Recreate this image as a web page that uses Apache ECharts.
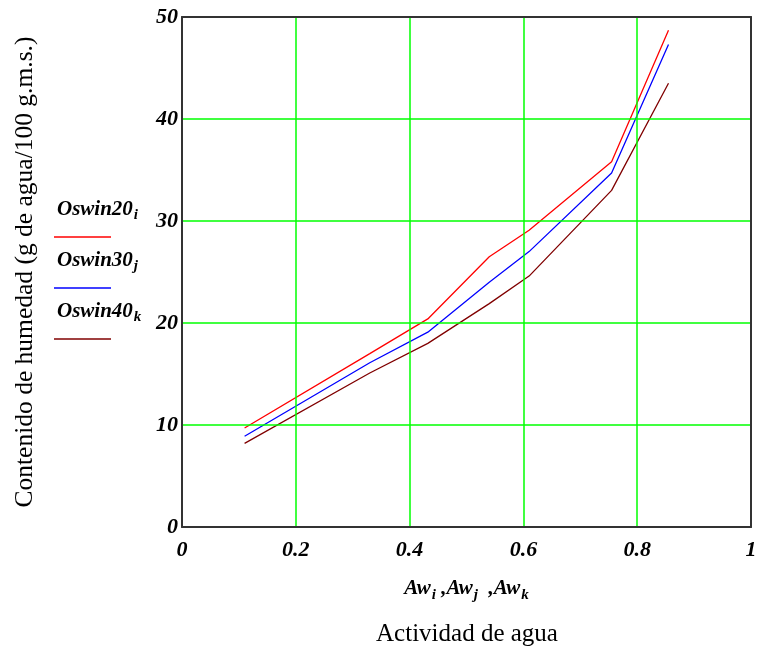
<!DOCTYPE html>
<html>
<head>
<meta charset="utf-8">
<script src="https://cdn.jsdelivr.net/npm/echarts@6/dist/echarts.min.js"></script>
<style>
  html, body { margin: 0; padding: 0; background: #fff; }
  #chart { width: 760px; height: 652px; }
</style>
</head>
<body>
<div id="chart"></div>
<script>
// Water activity of the saturated salt solutions (x axis)
const aw = [0.11, 0.33, 0.432, 0.54, 0.61, 0.755, 0.855];

// Oswin model moisture content (g water / 100 g dry matter) at each temperature
const oswin20 = [9.7, 17.0, 20.4, 26.5, 29.1, 35.8, 48.7];
const oswin30 = [8.9, 16.1, 19.1, 24.0, 27.0, 34.7, 47.3];
const oswin40 = [8.2, 15.1, 18.0, 21.9, 24.6, 33.0, 43.5];

const seriesNames = ['Oswin20', 'Oswin30', 'Oswin40'];
const seriesSubs = ['i', 'j', 'k'];
const seriesColors = ['#ff0000', '#0000ff', '#800000'];

const xTicks = [0, 0.2, 0.4, 0.6, 0.8, 1];
const yTicks = [0, 10, 20, 30, 40, 50];

const serif = '"Liberation Serif", "DejaVu Serif", serif';
const frameColor = '#333';
const gridGreen = '#00ff00';

function pairs(xs, ys) {
  return xs.map((x, i) => [x, ys[i]]);
}

const chart = echarts.init(document.getElementById('chart'));

const tickLabel = {
  color: '#000',
  fontFamily: serif,
  fontSize: 22,
  fontStyle: 'italic',
  fontWeight: 'bold'
};

const mainRich = { fontFamily: serif, fontSize: 21, fontStyle: 'italic', fontWeight: 'bold', lineHeight: 24 };
const subRich = { fontFamily: serif, fontSize: 15, fontStyle: 'italic', fontWeight: 'bold', lineHeight: 24, padding: [12, 0, 0, 1] };

// Legend block at the left: name with subscript above a short line sample
const legendGraphics = [];
seriesNames.forEach((name, i) => {
  const top = 196 + i * 51;
  legendGraphics.push({
    type: 'text',
    left: 57,
    top: top,
    style: {
      text: '{m|' + name + '}{s|' + seriesSubs[i] + '}',
      rich: {
        m: Object.assign({ fill: '#000' }, mainRich),
        s: Object.assign({ fill: '#000' }, subRich)
      }
    }
  });
  legendGraphics.push({
    type: 'line',
    shape: { x1: 54, y1: 237 + i * 51, x2: 111, y2: 237 + i * 51 },
    style: { stroke: seriesColors[i], lineWidth: 1.5 }
  });
});

// Border-only axes that close the frame on the top and right sides
const frameAxis = {
  axisLine: { show: true, onZero: false, lineStyle: { color: frameColor, width: 2 } },
  axisTick: { show: false },
  axisLabel: { show: false },
  splitLine: { show: false },
  z: 10
};

const option = {
  backgroundColor: '#fff',
  animation: false,
  grid: { left: 182, top: 17, right: 9, bottom: 125 },
  xAxis: [
    {
      type: 'value',
      min: xTicks[0], max: xTicks[xTicks.length - 1], interval: 0.2,
      axisLine: { show: true, onZero: false, lineStyle: { color: frameColor, width: 2 } },
      axisTick: { show: false },
      splitLine: { show: true, lineStyle: { color: gridGreen, width: 1.5 } },
      axisLabel: Object.assign({}, tickLabel, { margin: 12, showMaxLabel: true, showMinLabel: true }),
      name: '{a|Aw}{s|i}{a| ,Aw}{s|j}{a|  ,Aw}{s|k}',
      nameLocation: 'middle',
      nameGap: 50,
      nameTextStyle: {
        rich: {
          a: Object.assign({ color: '#000' }, mainRich),
          s: Object.assign({ color: '#000' }, subRich)
        }
      },
      z: 5
    },
    Object.assign({ type: 'value', position: 'top', min: 0, max: 1 }, frameAxis)
  ],
  yAxis: [
    {
      type: 'value',
      min: yTicks[0], max: yTicks[yTicks.length - 1], interval: 10,
      axisLine: { show: true, onZero: false, lineStyle: { color: frameColor, width: 2 } },
      axisTick: { show: false },
      splitLine: { show: true, lineStyle: { color: gridGreen, width: 1.5 } },
      axisLabel: Object.assign({}, tickLabel, { margin: 4 }),
      name: 'Contenido de humedad (g de agua/100 g.m.s.)',
      nameLocation: 'middle',
      nameGap: 144,
      nameTextStyle: { fontFamily: serif, fontSize: 25.5, color: '#000' },
      z: 5
    },
    Object.assign({ type: 'value', position: 'right', min: 0, max: 50 }, frameAxis)
  ],
  graphic: legendGraphics.concat([
    {
      type: 'text',
      x: 467,
      y: 634,
      style: {
        text: 'Actividad de agua',
        font: '25px ' + serif,
        fill: '#000',
        align: 'center',
        verticalAlign: 'middle'
      }
    }
  ]),
  series: [oswin20, oswin30, oswin40].map((ys, i) => ({
    name: seriesNames[i],
    type: 'line',
    xAxisIndex: 0,
    yAxisIndex: 0,
    data: pairs(aw, ys),
    showSymbol: false,
    symbol: 'none',
    lineStyle: { color: seriesColors[i], width: 1.3 },
    z: 3
  }))
};

chart.setOption(option);
</script>
</body>
</html>
